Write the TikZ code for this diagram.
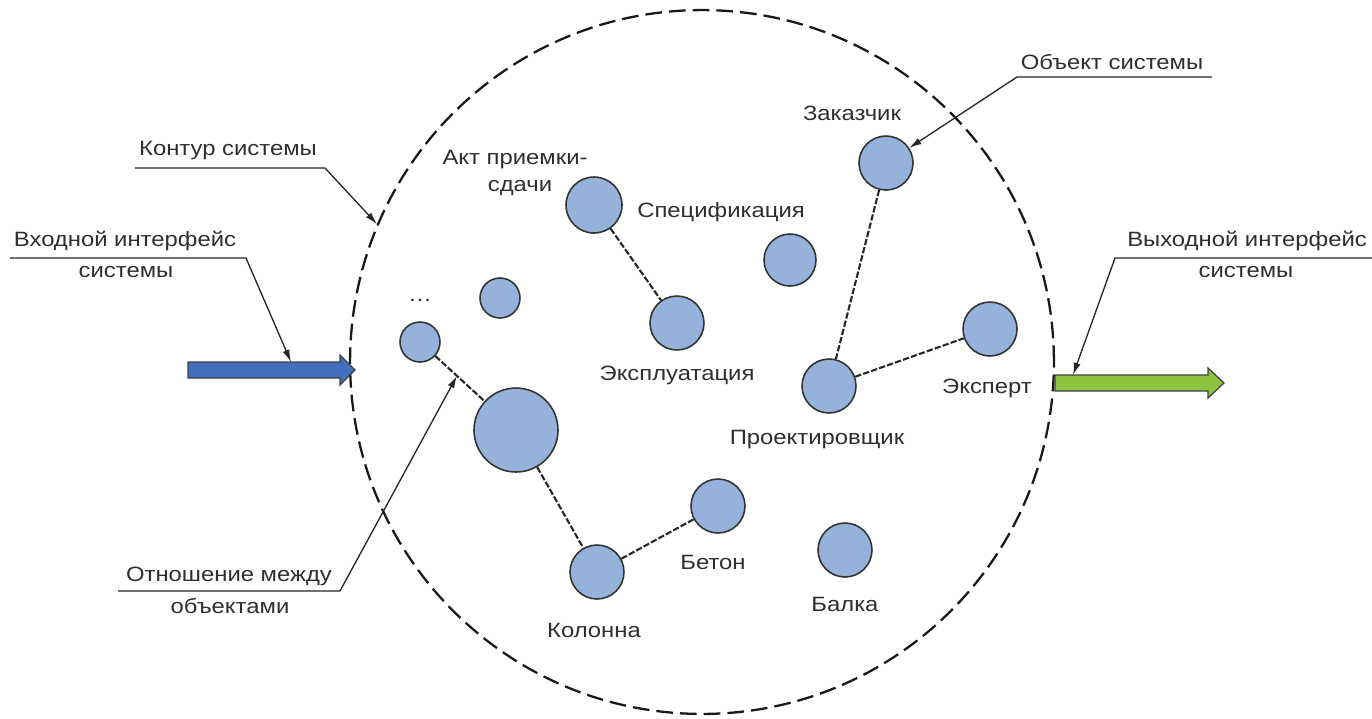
\documentclass[tikz,border=0pt]{standalone}
\usepackage{fontspec}
\setmainfont{Liberation Sans}[FakeStretch=1.15]
\usetikzlibrary{arrows.meta}
\definecolor{objblue}{RGB}{149,179,218}
\definecolor{inblue}{RGB}{66,112,190}
\definecolor{outgreen}{RGB}{140,196,64}
\begin{document}
\begin{tikzpicture}[x=0.02cm,y=-0.02cm,
  lbl/.style={font=\fontsize{11.8}{16}\selectfont, text=black!82, inner sep=0pt},
  obj/.style={circle, draw=black!80, line width=0.9pt, fill=objblue, inner sep=0pt},
  rel/.style={draw=black!85, line width=1.2pt, dash pattern=on 3.6pt off 1.2pt},
  callout/.style={draw=black!85, line width=0.75pt, -{Latex[length=7pt,width=4pt]}},
  contour/.style={circle, draw=black!90, line width=1.3pt, dash pattern=on 9.5pt off 4pt, inner sep=0pt},
  blockarrow/.style={draw=black!75, line width=0.7pt}]
\useasboundingbox (0,0) rectangle (1372,718);

% system contour
\node[contour, minimum size=14.08cm] (sys) at (702,362) {};

% objects
\node[obj, minimum size=1.08cm] (zak) at (886,163) {};
\node[obj, minimum size=1.12cm] (akt) at (594,205) {};
\node[obj, minimum size=1.04cm] (spec) at (790,260) {};
\node[obj, minimum size=0.80cm] (small) at (500,298) {};
\node[obj, minimum size=1.08cm] (expl) at (677,323) {};
\node[obj, minimum size=1.08cm] (expert) at (990,329) {};
\node[obj, minimum size=0.80cm] (dots) at (420,342) {};
\node[obj, minimum size=1.08cm] (proj) at (829,386) {};
\node[obj, minimum size=1.68cm] (big) at (516,430) {};
\node[obj, minimum size=1.08cm] (beton) at (718,506) {};
\node[obj, minimum size=1.08cm] (balka) at (845,550) {};
\node[obj, minimum size=1.08cm] (kol) at (597,572) {};

% object labels
\node[lbl] (tzak) at (852,113) {Заказчик};
\node[lbl] (takt1) at (515,160) {Акт приемки-};
\node[lbl] (takt2) at (520,188) {сдачи};
\node[lbl] (tspec) at (721,212) {Спецификация};
\node[lbl] (tdots) at (420,300) {\ldots};
\node[lbl] (texpl) at (677,375) {Эксплуатация};
\node[lbl] (texpert) at (987,388) {Эксперт};
\node[lbl] (tproj) at (817,440) {Проектировщик};
\node[lbl] (tbeton) at (713,562) {Бетон};
\node[lbl] (tkol) at (594,630) {Колонна};
\node[lbl] (tbalka) at (845,604) {Балка};

% relations
\draw[rel] (dots) -- coordinate[pos=0.44] (relpt) (big);
\draw[rel] (big) -- (kol);
\draw[rel] (kol) -- (beton);
\draw[rel] (akt) -- (expl);
\draw[rel] (zak) -- (proj);
\draw[rel] (proj) -- (expert);

% interface arrows
\filldraw[blockarrow, fill=inblue] (188,362) -- (340,362) -- (340,355) -- (355,370) -- (340,385) -- (340,378) -- (188,378) -- cycle;
\coordinate (intop) at (291,362);
\filldraw[blockarrow, fill=outgreen] (1055,375) -- (1208,375) -- (1208,368) -- (1224,383) -- (1208,398) -- (1208,391) -- (1055,391) -- cycle;
\coordinate (outtop) at (1073,375);

% callouts
\node[lbl] (tkontur) at (228,151) {Контур системы};
\coordinate (k1) at (135,168); \coordinate (k2) at (325,168);
\draw[callout] (k1) -- (k2) -- (sys.157);

\node[lbl] (tin1) at (125,241) {Входной интерфейс};
\node[lbl] (tin2) at (126,272) {системы};
\coordinate (i1) at (10,258); \coordinate (i2) at (246,258);
\draw[callout] (i1) -- (i2) -- (intop);

\node[lbl] (tobj) at (1112,62) {Объект системы};
\coordinate (o1) at (1212,77); \coordinate (o2) at (1017,77);
\draw[callout] (o1) -- (o2) -- (zak.33);

\node[lbl] (tout1) at (1247,241) {Выходной интерфейс};
\node[lbl] (tout2) at (1246,272) {системы};
\coordinate (u1) at (1372,258); \coordinate (u2) at (1115,258);
\draw[callout] (u1) -- (u2) -- (outtop);

\node[lbl] (trel1) at (229,576) {Отношение между};
\node[lbl] (trel2) at (230,606) {объектами};
\coordinate (r1) at (118,591); \coordinate (r2) at (340,591);
\draw[callout] (r1) -- (r2) -- (relpt);
\end{tikzpicture}
\end{document}
